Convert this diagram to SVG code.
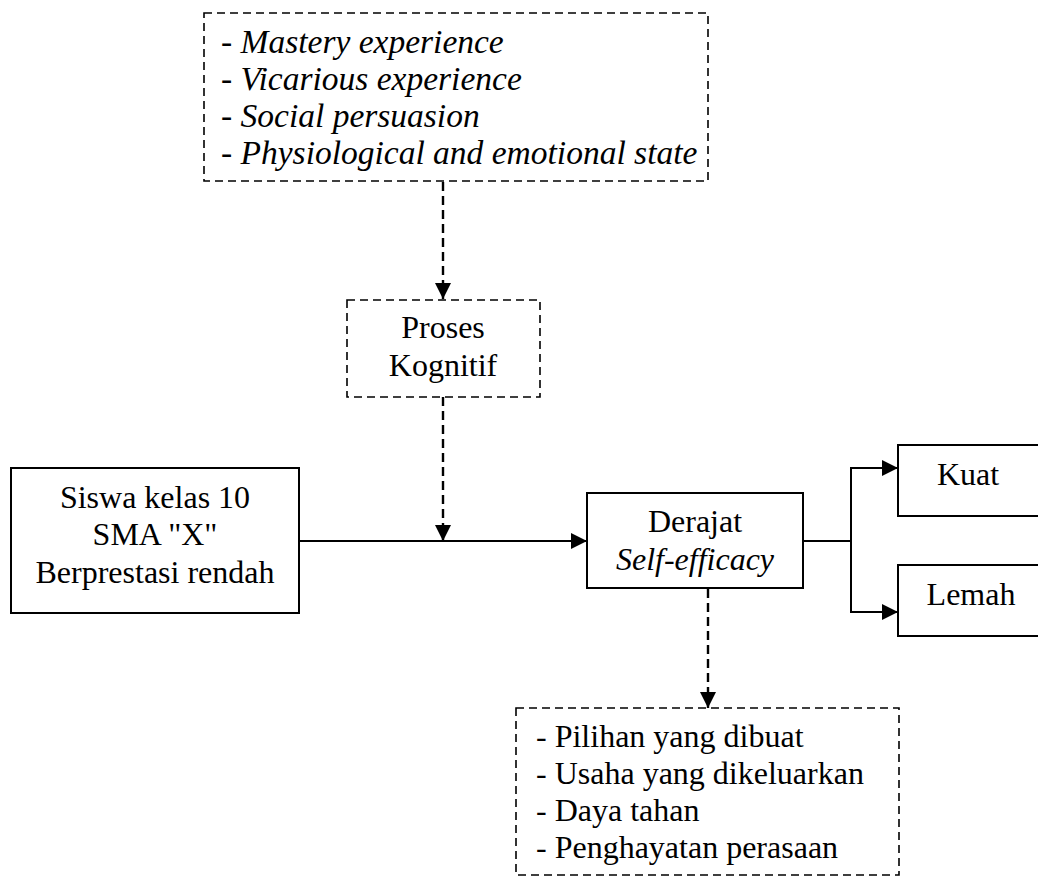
<svg xmlns="http://www.w3.org/2000/svg" width="1038" height="877" viewBox="0 0 1038 877" font-family="'Liberation Serif', 'Times New Roman', Times, serif" font-size="32">
<style>
.c{text-anchor:middle}
.i{font-style:italic}
.big{font-size:33.5px}
.box{fill:#fff;stroke:#000;stroke-width:2}
.dbox{fill:#fff;stroke:#000;stroke-width:1.6;stroke-dasharray:8 5}
.ln{fill:none;stroke:#000;stroke-width:2}
.dl{fill:none;stroke:#000;stroke-width:2.4;stroke-dasharray:9 5}
</style>
<defs>
<marker id="ah" markerUnits="userSpaceOnUse" markerWidth="16" markerHeight="16" viewBox="0 0 16 16" refX="16" refY="8" orient="auto">
<path d="M0,0 L16,8 L0,16 Z" fill="#000"/>
</marker>
</defs>
<rect width="1038" height="877" fill="#fff"/>
<g id="connectors">
<line class="dl" x1="443" y1="182" x2="443" y2="299" marker-end="url(#ah)"/>
<line class="dl" x1="443" y1="397" x2="443" y2="541" marker-end="url(#ah)"/>
<line class="ln" x1="299" y1="541" x2="587" y2="541" marker-end="url(#ah)"/>
<line class="dl" x1="708" y1="589" x2="708" y2="708" marker-end="url(#ah)"/>
<polyline class="ln" points="803,541 851,541"/>
<polyline class="ln" points="898,468 851,468 851,612 898,612"/>
<line class="ln" x1="851" y1="468" x2="898" y2="468" marker-end="url(#ah)"/>
<line class="ln" x1="851" y1="612" x2="898" y2="612" marker-end="url(#ah)"/>
</g>
<g id="sources">
<rect class="dbox" x="204" y="13" width="504" height="168"/>
<text class="i big" x="221" y="53">- Mastery experience</text>
<text class="i big" x="221" y="90">- Vicarious experience</text>
<text class="i big" x="221" y="127">- Social persuasion</text>
<text class="i big" x="221" y="164">- Physiological and emotional state</text>
</g>
<g id="proses">
<rect class="dbox" x="347" y="300" width="193" height="97"/>
<text class="c" x="443" y="338">Proses</text>
<text class="c" x="443" y="376">Kognitif</text>
</g>
<g id="siswa">
<rect class="box" x="11" y="468" width="288" height="145"/>
<text class="c" x="155" y="508">Siswa kelas 10</text>
<text class="c" x="155" y="545">SMA "X"</text>
<text class="c" x="155" y="583">Berprestasi rendah</text>
</g>
<g id="derajat">
<rect class="box" x="587" y="493" width="216" height="95"/>
<text class="c" x="695" y="532">Derajat</text>
<text class="c i" x="695" y="570">Self-efficacy</text>
</g>
<g id="kuat">
<rect class="box" x="898" y="445" width="150" height="71"/>
<text class="c" x="968" y="485">Kuat</text>
</g>
<g id="lemah">
<rect class="box" x="898" y="565" width="150" height="71"/>
<text class="c" x="971" y="605">Lemah</text>
</g>
<g id="dampak">
<rect class="dbox" x="516" y="708" width="383" height="167"/>
<text x="536" y="747">- Pilihan yang dibuat</text>
<text x="536" y="784">- Usaha yang dikeluarkan</text>
<text x="536" y="821">- Daya tahan</text>
<text x="536" y="858">- Penghayatan perasaan</text>
</g>
</svg>
